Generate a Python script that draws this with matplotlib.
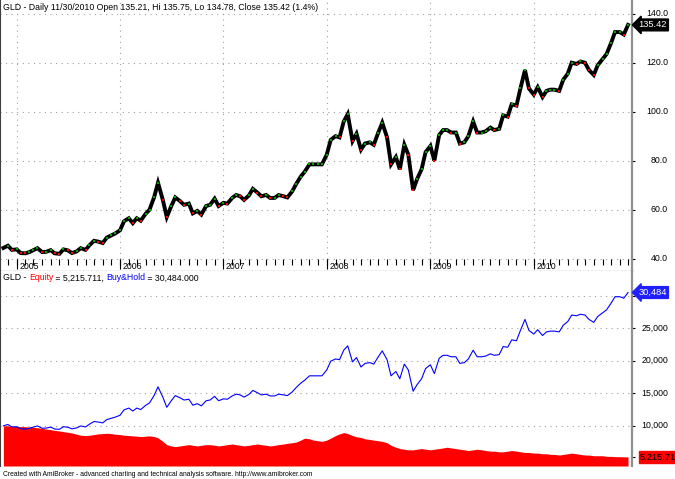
import numpy as np
import pandas as pd
import matplotlib
matplotlib.use('Agg')
from matplotlib import pyplot as plt
from matplotlib import transforms

plt.rcParams['font.family'] = ['Liberation Sans', 'DejaVu Sans']

# readings taken off the chart on the 1st and 15th of each month,
# starting 2004-11-15; the last reading is the 2010-11-30 bar
gld_close = [
    44.4, 45.3, 43.6,
    43.8, 42.3, 42.2, 42.7, 43.5, 44.3, 42.7, 42.8, 43.5, 42.2, 42.0, 43.8,
    43.4, 42.3, 43.0, 44.3, 43.6, 45.5, 47.3, 47.0, 46.4, 48.6, 49.5, 50.3,
    51.6, 55.3, 56.5, 54.5, 56.5, 55.5, 58.3, 60.0, 65.0, 71.0, 64.0, 57.0,
    61.5, 65.0, 63.5, 62.0, 62.5, 58.5, 59.5, 58.0, 61.5, 62.0, 64.5, 61.5,
    62.8, 62.5, 64.8, 66.0, 65.5, 64.0, 65.8, 68.5, 67.0, 65.5, 66.0, 64.8,
    64.8, 66.0, 65.5, 65.0, 67.5, 70.5, 73.5, 75.5, 78.5, 78.5, 78.5, 78.5,
    82.5, 88.5, 90.0, 89.5, 96.0, 99.0, 88.0, 91.0, 84.5, 87.0, 87.5, 86.5,
    91.5, 95.5, 89.5, 78.5, 81.5, 76.5, 86.5, 82.5, 68.0, 72.5, 76.5, 83.5,
    86.0, 80.0, 90.5, 92.5, 92.5, 91.5, 91.5, 87.0, 87.5, 90.0, 96.0, 91.5,
    91.5, 92.0, 93.5, 92.5, 93.0, 98.5, 98.0, 103.0, 102.5, 109.5, 117.0, 109.5,
    107.0, 110.0, 106.0, 108.5, 109.0, 109.0, 108.5, 113.0, 115.5, 120.0, 119.5, 120.5,
    120.0, 117.0, 115.0, 119.0, 121.5, 123.5, 128.0, 132.5, 132.5, 131.5, 135.42,
]

buy_hold = [
    10000, 10200, 9820,
    9860, 9530, 9500, 9620, 9800, 9980, 9620, 9640, 9800, 9500, 9460, 9860,
    9770, 9530, 9680, 9980, 9820, 10250, 10650, 10580, 10450, 10950, 11150, 11330,
    11620, 12450, 12720, 12270, 12720, 12500, 13130, 13510, 14640, 15990, 14410, 12840,
    13850, 14640, 14300, 13960, 14080, 13170, 13400, 13060, 13850, 13960, 14530, 13850,
    14140, 14080, 14590, 14860, 14750, 14410, 14820, 15430, 15090, 14750, 14860, 14590,
    14590, 14860, 14750, 14640, 15200, 15880, 16550, 17000, 17680, 17680, 17680, 17680,
    18580, 19930, 20270, 20160, 21620, 22290, 19820, 20490, 19030, 19590, 19710, 19480,
    20610, 21510, 20160, 17680, 18350, 17230, 19480, 18580, 15310, 16330, 17230, 18800,
    19370, 18020, 20380, 20830, 20830, 20610, 20610, 19590, 19710, 20270, 21620, 20610,
    20610, 20720, 21060, 20830, 20940, 22180, 22070, 23200, 23080, 24660, 26350, 24660,
    24100, 24770, 23870, 24430, 24550, 24550, 24430, 25450, 26010, 27020, 26910, 27140,
    27020, 26350, 25900, 26800, 27360, 27810, 28830, 29840, 29840, 29610, 30484,
]

equity = [
    10000, 10000, 9950,
    9900, 9880, 9850, 9800, 9750, 9700, 9600, 9500, 9400, 9300, 9200, 9100,
    9000, 8900, 8700, 8550, 8500, 8550, 8650, 8750, 8800, 8850, 8800, 8700,
    8650, 8550, 8500, 8450, 8400, 8350, 8400, 8450, 8350, 8150, 7600, 7100,
    6900, 6800, 6900, 7000, 7100, 7000, 6900, 7000, 7100, 7100, 7000, 6900,
    7000, 7100, 7200, 7100, 7000, 6900, 7000, 7100, 7200, 7100, 7000, 6900,
    7000, 7100, 7200, 7300, 7400, 7500, 7800, 8100, 8000, 7800, 7700, 7600,
    7800, 8100, 8500, 8750, 8950, 8800, 8500, 8300, 8200, 8000, 7900, 7800,
    7700, 7600, 7400, 7000, 6700, 6500, 6400, 6300, 6300, 6400, 6500, 6400,
    6300, 6400, 6500, 6600, 6700, 6600, 6500, 6400, 6300, 6200, 6300, 6400,
    6300, 6200, 6100, 6100, 6000, 6000, 6100, 6200, 6100, 6000, 5900, 5900,
    5800, 5800, 5700, 5700, 5600, 5600, 5500, 5600, 5700, 5800, 5700, 5600,
    5500, 5500, 5400, 5400, 5400, 5300, 5300, 5250, 5250, 5230, 5215.71,
]

price_ticks = [40, 60, 80, 100, 120, 140]
price_labels = ['40.0', '60.0', '80.0', '100.0', '120.0', '140.0']
eq_ticks = [10000, 15000, 20000, 25000, 30000]
eq_labels = ['10,000', '15,000', '20,000', '25,000', '30,000']
years = ['2005', '2006', '2007', '2008', '2009', '2010']

title_top = 'GLD - Daily 11/30/2010 Open 135.21, Hi 135.75, Lo 134.78, Close 135.42 (1.4%)'
footer = ('Created with AmiBroker - advanced charting and technical analysis '
          'software. http://www.amibroker.com')

dates = pd.date_range('2004-11-15', periods=len(gld_close) - 1, freq='SMS')
dates = dates.append(pd.DatetimeIndex(['2010-11-30']))

W, H = 675, 479
fig = plt.figure(figsize=(W / 100, H / 100), dpi=100)
fig.patch.set_facecolor('white')

right = 632 / W
ax1 = fig.add_axes([0, 1 - 271 / H, right, 271 / H])
ax2 = fig.add_axes([0, 1 - 466 / H, right, (466 - 271) / H])

xmin, xmax = pd.Timestamp('2004-11-03'), pd.Timestamp('2010-12-14')
year_dates = [pd.Timestamp(y + '-01-01') for y in years]
month_dates = pd.date_range('2004-12-01', '2010-12-01', freq='MS')

grid_kw = dict(color='#a0a0a0', lw=0.8, ls=(0, (1, 4)), zorder=0)
fsz = 6.3

for ax in (ax1, ax2):
    ax.set_xlim(xmin, xmax)
    ax.set_xticks([])
    ax.spines['top'].set_visible(False)
    ax.spines['left'].set_color('#404040')
    ax.spines['right'].set_color('#909090')
    ax.spines['right'].set_linewidth(1.6)
    ax.tick_params(axis='y', which='both', left=False, right=True, labelleft=False,
                   labelright=False, direction='out', length=2.5, width=0.8, color='black')

# ---- price panel
ax1.set_ylim(34.98, 145.59)
ax1.spines['bottom'].set_color('black')
ax1.spines['bottom'].set_linewidth(0.8)
ax1.set_yticks(price_ticks)
for y in price_ticks:
    ax1.axhline(y, **grid_kw)
ax1.vlines(year_dates, 40, 145.59, **grid_kw)
ax1.vlines(month_dates, 37.6, 39.7, color='black', lw=0.8)
ax1.vlines(year_dates, 36.0, 40.0, color='black', lw=0.8)

ytr1 = transforms.blended_transform_factory(ax1.transAxes, ax1.transData)
for y, lab in zip(price_ticks, price_labels):
    ax1.text(668 / 632, y, lab, transform=ytr1, ha='right', va='center',
             fontsize=fsz, clip_on=False)
for d, lab in zip(year_dates, years):
    ax1.text(d + pd.Timedelta(days=9), 36.9, lab, ha='left', va='center', fontsize=fsz)

ax1.plot(dates, gld_close, color='black', lw=2.8, solid_joinstyle='miter', zorder=3)
ups = [i for i in range(1, len(gld_close)) if gld_close[i] >= gld_close[i - 1]]
dns = [i for i in range(1, len(gld_close)) if gld_close[i] < gld_close[i - 1]]
ax1.scatter(dates[ups], np.array(gld_close)[ups], s=3, marker='s', c='#00a000',
            linewidths=0, zorder=4)
ax1.scatter(dates[dns], np.array(gld_close)[dns], s=3, marker='s', c='#ff0000',
            linewidths=0, zorder=4)

ax1.text(667 / 632, gld_close[-1], '135.42', transform=ytr1, ha='right',
         va='center', fontsize=fsz + 0.4, color='white', clip_on=False, zorder=5,
         bbox=dict(boxstyle='larrow,pad=0.15', fc='black', ec='black'))

# ---- equity panel
ax2.set_ylim(3820, 33790)
ax2.spines['bottom'].set_visible(False)
ax2.set_yticks(eq_ticks + [equity[-1]])
for y in eq_ticks:
    ax2.axhline(y, **grid_kw)
ax2.fill_between(dates, equity, 3820, color='#ff0000', lw=0, zorder=2)
ax2.plot(dates, buy_hold, color='#0000ff', lw=0.8, zorder=3)

ytr2 = transforms.blended_transform_factory(ax2.transAxes, ax2.transData)
for y, lab in zip(eq_ticks, eq_labels):
    ax2.text(668 / 632, y, lab, transform=ytr2, ha='right', va='center',
             fontsize=fsz, clip_on=False, zorder=1)
ax2.text(667 / 632, buy_hold[-1], '30,484', transform=ytr2, ha='right',
         va='center', fontsize=fsz + 0.4, color='white', clip_on=False, zorder=5,
         bbox=dict(boxstyle='larrow,pad=0.15', fc='#2020ff', ec='#2020ff'))
ax2.text(640 / 632, equity[-1], '5,215.71', transform=ytr2, ha='left',
         va='center', fontsize=fsz + 0.4, color='black', clip_on=False, zorder=5,
         bbox=dict(boxstyle='square,pad=0.15', fc='#ff0000', ec='#ff0000'))

# ---- titles
fig.text(3 / W, 1 - 8 / H, title_top, ha='left', va='center', fontsize=fsz)
renderer = fig.canvas.get_renderer()
x = 3 / W
for txt, col in [('GLD - ', 'black'), ('Equity', '#ff0000'),
                 (' = 5,215.711, ', 'black'), ('Buy&Hold', '#0000ff'),
                 (' = 30,484.000', 'black')]:
    t = fig.text(x, 1 - 278 / H, txt, ha='left', va='center', fontsize=fsz,
                 color=col)
    bb = t.get_window_extent(renderer)
    x += bb.width / W
fig.text(3 / W, 1 - 474 / H, footer, ha='left', va='center', fontsize=4.9)

fig.savefig('out.png', dpi=100, facecolor='white')
